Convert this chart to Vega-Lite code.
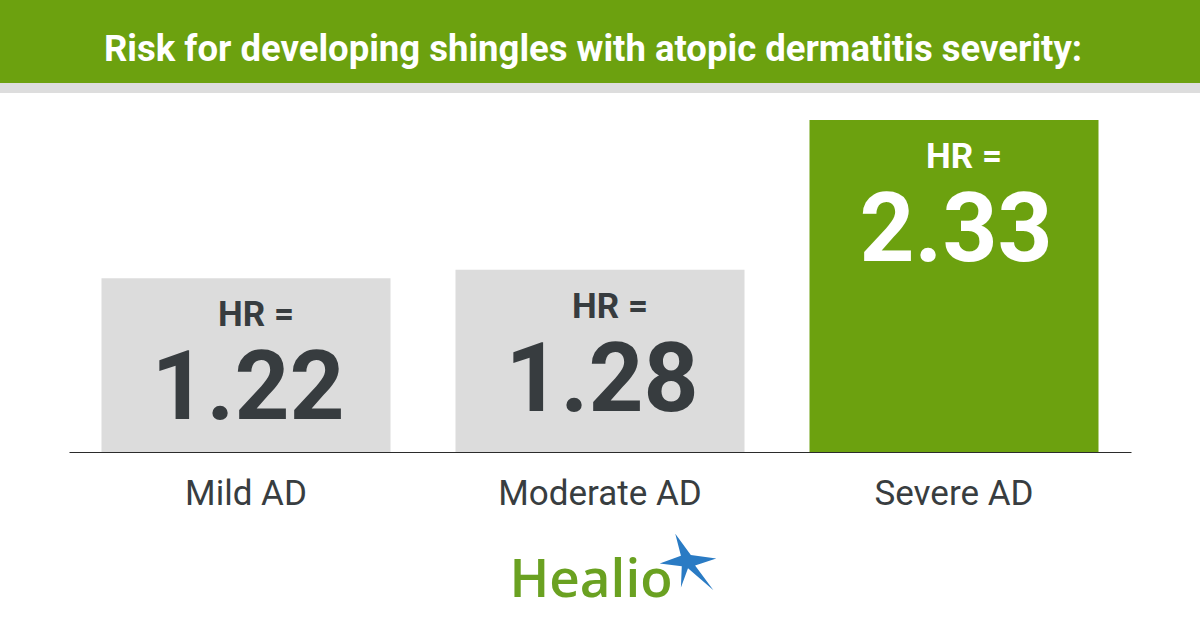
{
  "$schema": "https://vega.github.io/schema/vega-lite/v6.json",
  "padding": 0,
  "spacing": 0,
  "bounds": "flush",
  "center": true,
  "background": "white",
  "config": {"view": {"stroke": null}},
  "vconcat": [
    {
      "width": 1200,
      "height": 83,
      "view": {"fill": "#6CA10F", "stroke": null},
      "data": {"values": [{"title": "Risk for developing shingles with atopic dermatitis severity:"}]},
      "mark": {"type": "text", "font": "Roboto", "fontWeight": "bold", "fontSize": 36.5, "color": "white", "baseline": "alphabetic", "dy": 19, "dx": -7},
      "encoding": {"text": {"field": "title"}}
    },
    {
      "width": 1200,
      "height": 10,
      "view": {"fill": "#DDDDDD", "stroke": null},
      "data": {"values": [{"t": ""}]},
      "mark": {"type": "text"},
      "encoding": {"text": {"field": "t"}}
    },
    {
      "width": 1062,
      "height": 359,
      "data": {"values": [
        {"group": "Mild AD", "hr": 1.22, "label": "1.22", "highlight": "no"},
        {"group": "Moderate AD", "hr": 1.28, "label": "1.28", "highlight": "no"},
        {"group": "Severe AD", "hr": 2.33, "label": "2.33", "highlight": "yes"}
      ]},
      "encoding": {
        "x": {
          "field": "group", "type": "nominal", "sort": null,
          "scale": {"paddingInner": 0.1836, "paddingOuter": 0.0918},
          "axis": {
            "title": null, "ticks": false, "labelAngle": 0, "labelLimit": 0,
            "labelFont": "Roboto", "labelFontSize": 35, "labelColor": "#383D40",
            "labelBaseline": "alphabetic", "labelPadding": 52,
            "domainColor": "#2B2B2B", "domainWidth": 1.2
          }
        },
        "y": {"field": "hr", "type": "quantitative", "scale": {"domain": [0, 2.52]}, "axis": null}
      },
      "layer": [
        {
          "mark": {"type": "bar"},
          "encoding": {
            "color": {"condition": {"test": "datum.highlight === 'yes'", "value": "#6CA10F"}, "value": "#DCDCDC"}
          }
        },
        {
          "mark": {"type": "text", "font": "Roboto", "fontWeight": "bold", "fontSize": 35, "baseline": "alphabetic", "dy": 48, "dx": 10},
          "encoding": {
            "text": {"value": "HR ="},
            "color": {"condition": {"test": "datum.highlight === 'yes'", "value": "#FFFFFF"}, "value": "#373C3F"}
          }
        },
        {
          "mark": {"type": "text", "font": "Roboto", "fontWeight": "bold", "fontSize": 96, "baseline": "alphabetic", "dy": 141, "dx": 2},
          "encoding": {
            "text": {"field": "label"},
            "color": {"condition": {"test": "datum.highlight === 'yes'", "value": "#FFFFFF"}, "value": "#373C3F"}
          }
        }
      ]
    },
    {
      "width": 1200,
      "height": 178,
      "data": {"values": [{"brand": "Healio"}]},
      "layer": [
        {
          "mark": {"type": "text", "font": "Open Sans", "fontWeight": 600, "fontSize": 53, "color": "#6AA121", "baseline": "alphabetic", "dx": -9, "dy": 56},
          "encoding": {"text": {"field": "brand"}}
        },
        {
          "mark": {"type": "point", "filled": true, "color": "#2A7BC4", "opacity": 1, "size": 3200, "xOffset": 88, "yOffset": 21,
            "shape": "M-1,0.05 L-0.25,-0.22 L-0.45,-1 L0.1,-0.25 L1,-0.12 L0.25,0.12 L0.9,1 L0,0.22 L-0.25,0.9 L-0.22,0.15 Z"},
          "encoding": {}
        }
      ]
    }
  ]
}
